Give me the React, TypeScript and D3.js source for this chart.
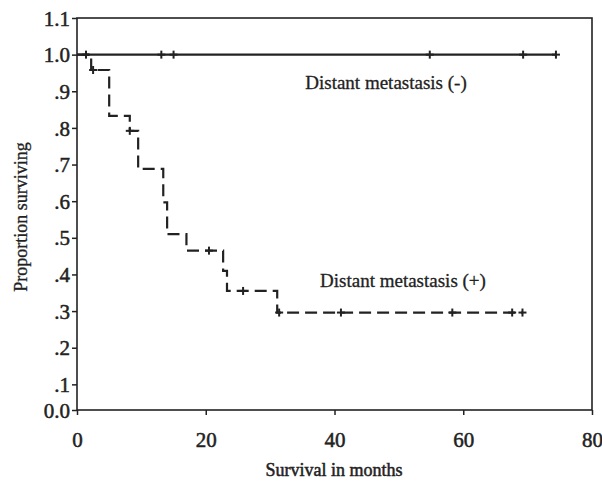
import React, { useEffect, useRef } from "react";
import * as d3 from "d3";

// Distant metastasis (+): step times (months) and survival after each drop
const posTimes = [2.2, 5.0, 8.2, 9.5, 13.4, 14.0, 17.0, 22.7, 23.3, 31.1];
const posSurvival = [0.958, 0.833, 0.792, 0.688, 0.597, 0.51, 0.465, 0.41, 0.355, 0.296];
const posEnd = 69.3;
const posCensored = [2.5, 8.2, 20.5, 25.8, 31.4, 41.0, 58.3, 67.6, 69.2];

// Distant metastasis (-): nobody died
const negCensored = [1.4, 13.1, 15.0, 54.8, 69.3, 74.4];
const negEnd = 74.4;

const xTicks = [0, 20, 40, 60, 80];
const yTicks = [0, 0.1, 0.2, 0.3, 0.4, 0.5, 0.6, 0.7, 0.8, 0.9, 1.0, 1.1];
const yTickLabels = ["0.0", ".1", ".2", ".3", ".4", ".5", ".6", ".7", ".8", ".9", "1.0", "1.1"];

const W = 602;
const H = 485;
const ink = "#222";
const font = "'Liberation Serif', 'Times New Roman', serif";

export default function App() {
  const svgRef = useRef<SVGSVGElement>(null);

  useEffect(() => {
    const svg = d3.select(svgRef.current);
    svg.selectAll("*").remove();

    const x = d3.scaleLinear().domain([0, 80]).range([77, 592]);
    // bottom of the axis sits a bit above 0, the "0.0" label is pinned to it
    const y = d3.scaleLinear().domain([0.03, 1.1]).range([410, 18]).clamp(true);

    // frame
    svg
      .append("rect")
      .attr("x", x(0))
      .attr("y", y(1.1))
      .attr("width", x(80) - x(0))
      .attr("height", y(0) - y(1.1))
      .attr("fill", "none")
      .attr("stroke", ink)
      .attr("stroke-width", 1.6);

    const gy = svg
      .append("g")
      .attr("transform", `translate(${x(0)},0)`)
      .call(
        d3
          .axisLeft(y)
          .tickValues(yTicks)
          .tickFormat((d, i) => yTickLabels[i])
          .tickSize(5)
          .tickSizeOuter(0)
      );
    gy.select(".domain").remove();
    gy.selectAll("line").attr("stroke", ink).attr("stroke-width", 1.5);
    gy.selectAll("text")
      .attr("font-family", font)
      .attr("font-size", 21)
      .attr("fill", ink)
      .attr("stroke", ink)
      .attr("stroke-width", 0.5)
      .attr("x", -7)
      .attr("dy", "0.34em");

    const gx = svg
      .append("g")
      .attr("transform", `translate(0,${y(0)})`)
      .call(d3.axisBottom(x).tickValues(xTicks).tickFormat(d3.format("d")).tickSize(5).tickSizeOuter(0));
    gx.select(".domain").remove();
    gx.selectAll("line").attr("stroke", ink).attr("stroke-width", 1.5);
    gx.selectAll("text")
      .attr("font-family", font)
      .attr("font-size", 21)
      .attr("fill", ink)
      .attr("stroke", ink)
      .attr("stroke-width", 0.5)
      .attr("y", 22);

    // axis titles
    svg
      .append("text")
      .attr("x", 334)
      .attr("y", 476)
      .attr("text-anchor", "middle")
      .attr("font-family", font)
      .attr("font-size", 18)
      .attr("fill", ink)
      .attr("stroke", ink)
      .attr("stroke-width", 0.5)
      .text("Survival in months");
    svg
      .append("text")
      .attr("transform", "translate(27,217) rotate(-90)")
      .attr("text-anchor", "middle")
      .attr("font-family", font)
      .attr("font-size", 18)
      .attr("fill", ink)
      .attr("stroke", ink)
      .attr("stroke-width", 0.3)
      .text("Proportion surviving");

    const line = d3
      .line<[number, number]>()
      .x((d) => x(d[0]))
      .y((d) => y(d[1]))
      .curve(d3.curveStepAfter);

    const negPts: [number, number][] = [
      [0, 1],
      [negEnd, 1],
    ];
    const posPts: [number, number][] = [[0, 1]];
    posTimes.forEach((t, i) => posPts.push([t, posSurvival[i]]));
    posPts.push([posEnd, posSurvival[posSurvival.length - 1]]);

    svg
      .append("path")
      .attr("d", line(negPts))
      .attr("fill", "none")
      .attr("stroke", ink)
      .attr("stroke-width", 2.2);
    svg
      .append("path")
      .attr("d", line(posPts))
      .attr("fill", "none")
      .attr("stroke", ink)
      .attr("stroke-width", 2.2)
      .attr("stroke-dasharray", "12,6");

    const survAt = (t: number) => {
      let s = 1;
      posTimes.forEach((pt, i) => {
        if (t >= pt) s = posSurvival[i];
      });
      return s;
    };

    const marks = [
      ...negCensored.map((t) => [t, 1] as [number, number]),
      ...posCensored.map((t) => [t, survAt(t)] as [number, number]),
    ];
    const gm = svg.append("g").attr("stroke", ink).attr("stroke-width", 2);
    gm.selectAll("line.v")
      .data(marks)
      .join("line")
      .attr("class", "v")
      .attr("x1", (d) => x(d[0]))
      .attr("x2", (d) => x(d[0]))
      .attr("y1", (d) => y(d[1]) - 4)
      .attr("y2", (d) => y(d[1]) + 4);
    gm.selectAll("line.h")
      .data(marks)
      .join("line")
      .attr("class", "h")
      .attr("x1", (d) => x(d[0]) - 4)
      .attr("x2", (d) => x(d[0]) + 4)
      .attr("y1", (d) => y(d[1]))
      .attr("y2", (d) => y(d[1]));

    // curve labels
    svg
      .append("text")
      .attr("x", 386)
      .attr("y", 89)
      .attr("text-anchor", "middle")
      .attr("font-family", font)
      .attr("font-size", 19)
      .attr("fill", ink)
      .attr("stroke", ink)
      .attr("stroke-width", 0.3)
      .text("Distant metastasis (-)");
    svg
      .append("text")
      .attr("x", 403)
      .attr("y", 287)
      .attr("text-anchor", "middle")
      .attr("font-family", font)
      .attr("font-size", 19)
      .attr("fill", ink)
      .attr("stroke", ink)
      .attr("stroke-width", 0.3)
      .text("Distant metastasis (+)");
  }, []);

  return (
    <svg
      ref={svgRef}
      width={W}
      height={H}
      style={{ position: "absolute", left: 0, top: 0, background: "#fff" }}
    />
  );
}
